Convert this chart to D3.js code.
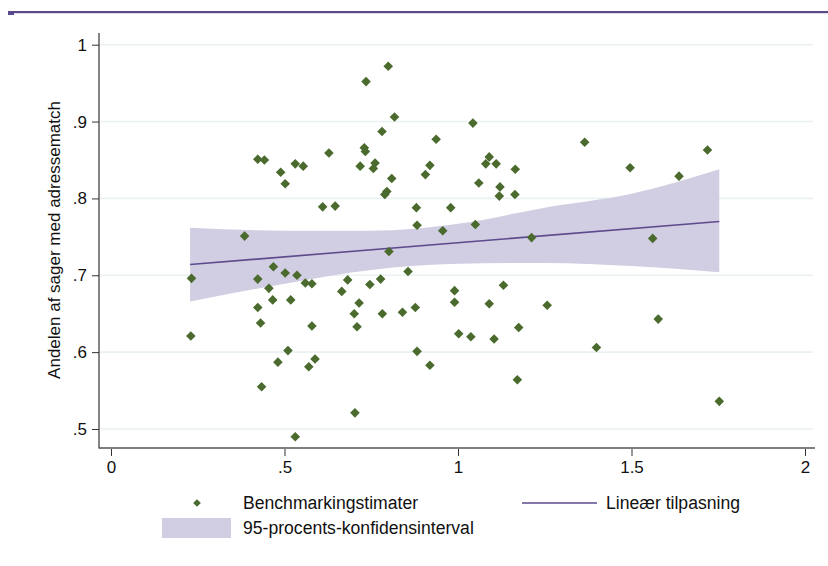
<!DOCTYPE html>
<html>
<head>
<meta charset="utf-8">
<script src="https://cdn.jsdelivr.net/npm/d3@7"></script>
<style>
  html, body { margin: 0; padding: 0; background: #fff; }
  svg { display: block; font-family: "Liberation Sans", Arial, sans-serif; }
</style>
</head>
<body>
<svg id="chart" width="828" height="566"></svg>
<script>
// ---- data ----
const pointX = [0.232,0.230,0.423,0.442,0.489,0.502,0.531,0.554,0.628,0.610,0.646,0.385,
  0.423,0.468,0.502,0.536,0.560,0.579,0.682,0.665,0.455,0.466,0.518,0.423,0.431,0.579,
  0.510,0.481,0.588,0.570,0.434,0.531,
  0.799,0.735,0.817,0.781,1.043,0.937,0.730,0.733,0.718,0.761,0.756,0.809,0.795,0.789,
  0.919,0.906,1.090,1.080,1.110,1.165,1.060,1.121,1.119,1.164,0.880,0.979,0.882,0.956,
  1.050,1.212,
  0.801,0.856,0.746,0.777,0.715,0.701,0.709,0.782,0.840,0.877,0.990,0.990,1.131,1.090,
  1.002,1.037,1.104,1.175,0.882,0.919,1.171,0.703,
  1.365,1.496,1.719,1.637,1.561,1.257,1.577,1.399,1.753];
const pointY = [0.696,0.621,0.851,0.850,0.834,0.819,0.845,0.842,0.859,0.789,0.790,0.751,
  0.695,0.711,0.703,0.700,0.690,0.689,0.694,0.679,0.683,0.668,0.668,0.658,0.638,0.634,
  0.602,0.587,0.591,0.581,0.555,0.490,
  0.972,0.952,0.906,0.887,0.898,0.877,0.866,0.861,0.842,0.846,0.839,0.826,0.809,0.805,
  0.843,0.831,0.854,0.845,0.845,0.838,0.820,0.815,0.803,0.805,0.788,0.788,0.765,0.758,
  0.766,0.749,
  0.731,0.705,0.688,0.695,0.664,0.650,0.633,0.650,0.652,0.658,0.680,0.665,0.687,0.663,
  0.624,0.620,0.617,0.632,0.601,0.583,0.564,0.521,
  0.873,0.840,0.863,0.829,0.748,0.661,0.643,0.606,0.536];

const fitX = [0.228, 1.753];
const fitY = [0.714, 0.770];

const ciX     = [0.228, 0.5,   0.75,  1.0,   1.25,  1.5,   1.753];
const ciUpper = [0.762, 0.758, 0.758, 0.767, 0.788, 0.806, 0.838];
const ciLower = [0.666, 0.689, 0.707, 0.715, 0.716, 0.712, 0.704];

const xTicks = [0, 0.5, 1, 1.5, 2];
const xTickLabels = ["0", ".5", "1", "1.5", "2"];
const yTicks = [0.5, 0.6, 0.7, 0.8, 0.9, 1];
const yTickLabels = [".5", ".6", ".7", ".8", ".9", "1"];

const yTitle = "Andelen af sager med adressematch";
const legendLabels = ["Benchmarkingstimater", "Lineær tilpasning", "95-procents-konfidensinterval"];

// ---- drawing ----
const svg = d3.select("#chart");
const x = d3.scaleLinear().domain([0, 2]).range([111, 805]);
const y = d3.scaleLinear().domain([0.5, 1]).range([429, 44.7]);

const plotLeft = 99, plotRight = 813, plotTop = 33, plotBottom = 448;

const col = {
  top: "#5b4a8b", grid: "#e9f1f3", band: "#d1cde2", line: "#5e4b8e",
  marker: "#4a6b2d", axis: "#333", text: "#111"
};

// top rule
svg.append("rect").attr("x", 8).attr("y", 11).attr("width", 820).attr("height", 2.2).attr("fill", col.top);
svg.append("rect").attr("x", 8).attr("y", 11).attr("width", 6).attr("height", 4).attr("fill", col.top);

// grid
svg.append("g").selectAll("line").data(yTicks).join("line")
  .attr("x1", plotLeft + 1).attr("x2", plotRight)
  .attr("y1", d => y(d)).attr("y2", d => y(d))
  .attr("stroke", col.grid).attr("stroke-width", 1.6);

// CI band
const ciData = ciX.map((v, i) => ({x: v, lo: ciLower[i], hi: ciUpper[i]}));
svg.append("path").datum(ciData)
  .attr("d", d3.area().x(d => x(d.x)).y0(d => y(d.lo)).y1(d => y(d.hi)).curve(d3.curveMonotoneX))
  .attr("fill", col.band);

// fit line
const fitData = fitX.map((v, i) => ({x: v, y: fitY[i]}));
svg.append("path").datum(fitData)
  .attr("d", d3.line().x(d => x(d.x)).y(d => y(d.y)))
  .attr("fill", "none").attr("stroke", col.line).attr("stroke-width", 1.6);

// points
const diamond = d3.symbol().type(d3.symbolSquare).size(46);
svg.append("g").selectAll("path").data(pointX.map((v, i) => [v, pointY[i]])).join("path")
  .attr("d", diamond)
  .attr("transform", d => `translate(${x(d[0])},${y(d[1])}) rotate(45)`)
  .attr("fill", col.marker);

// y axis
const yAxis = d3.axisLeft(y).tickValues(yTicks)
  .tickFormat((d, i) => yTickLabels[i]).tickSize(7).tickPadding(5);
const gy = svg.append("g").attr("transform", `translate(${plotLeft},0)`).call(yAxis);
gy.select(".domain").remove();
gy.selectAll(".tick line").attr("stroke", col.axis);
gy.selectAll(".tick text").attr("fill", col.text).style("font-size", "17px")
  .style("font-family", "'Liberation Sans', Arial, sans-serif");
svg.append("line").attr("x1", plotLeft).attr("x2", plotLeft).attr("y1", plotTop).attr("y2", plotBottom + 0.5)
  .attr("stroke", col.axis).attr("stroke-width", 1.2);

// x axis
const xAxis = d3.axisBottom(x).tickValues(xTicks)
  .tickFormat((d, i) => xTickLabels[i]).tickSize(7).tickPadding(5);
const gx = svg.append("g").attr("transform", `translate(0,${plotBottom + 1})`).call(xAxis);
gx.select(".domain").remove();
gx.selectAll(".tick line").attr("stroke", col.axis);
gx.selectAll(".tick text").attr("fill", col.text).style("font-size", "17px")
  .style("font-family", "'Liberation Sans', Arial, sans-serif");
svg.append("line").attr("x1", plotLeft).attr("x2", plotRight + 2).attr("y1", plotBottom).attr("y2", plotBottom)
  .attr("stroke", "#555").attr("stroke-width", 1.4);

// y title
svg.append("text")
  .attr("transform", `translate(60,240) rotate(-90)`)
  .attr("text-anchor", "middle")
  .style("font-size", "17px").attr("fill", col.text)
  .text(yTitle);

// legend
const lg = svg.append("g");
const legFont = "17.6px";
lg.append("path").attr("d", d3.symbol().type(d3.symbolSquare).size(30))
  .attr("transform", "translate(197,503) rotate(45)").attr("fill", col.marker);
lg.append("text").attr("x", 243).attr("y", 509).style("font-size", legFont).attr("fill", col.text).text(legendLabels[0]);
lg.append("line").attr("x1", 522).attr("x2", 597).attr("y1", 503).attr("y2", 503)
  .attr("stroke", col.line).attr("stroke-width", 1.6);
lg.append("text").attr("x", 606).attr("y", 509).style("font-size", legFont).attr("fill", col.text).text(legendLabels[1]);
lg.append("rect").attr("x", 162).attr("y", 518).attr("width", 69).attr("height", 20).attr("fill", col.band);
lg.append("text").attr("x", 243).attr("y", 534).style("font-size", legFont).attr("fill", col.text).text(legendLabels[2]);
</script>
</body>
</html>
